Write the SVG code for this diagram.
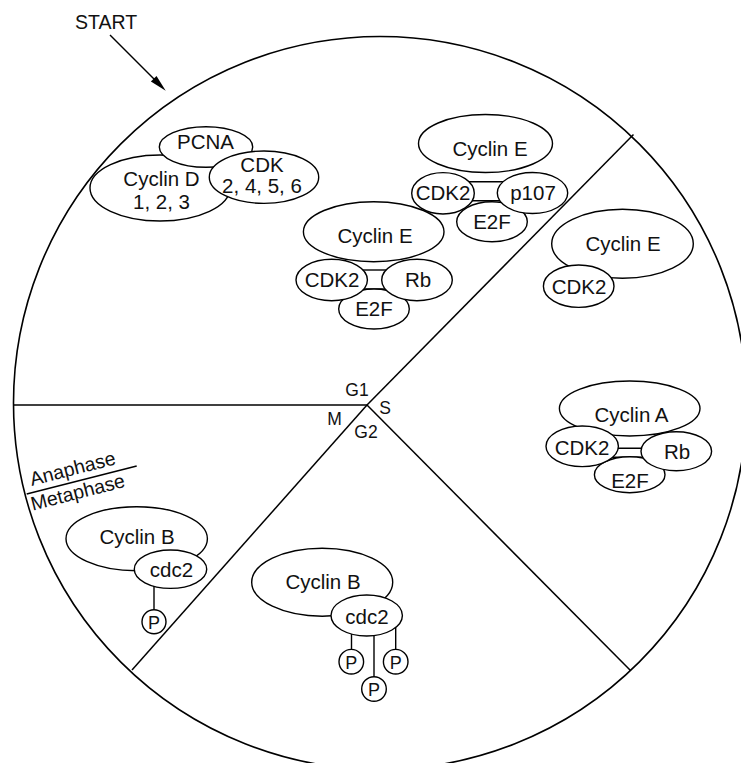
<svg xmlns="http://www.w3.org/2000/svg" width="741" height="763" viewBox="0 0 741 763">
<style>
.ring{fill:none;stroke:#000;stroke-width:1.6}
.sp{stroke:#000;stroke-width:1.5;fill:none}
.n{fill:#fff;stroke:#000;stroke-width:1.4}
.c{stroke:#000;stroke-width:1.4;fill:none}
text{font-family:"Liberation Sans",Arial,sans-serif;fill:#111}
.t{font-size:20.5px;text-anchor:middle}
.p{font-size:18px;text-anchor:middle}
.g{font-size:17.5px;text-anchor:middle}
</style>
<rect width="741" height="763" fill="#fff"/>
<g id="cycle">
<circle class="ring" cx="380" cy="403" r="366.5"/>
<line class="sp" x1="13.5" y1="405" x2="367" y2="405"/>
<line class="sp" x1="367" y1="405" x2="633.5" y2="134.5"/>
<line class="sp" x1="367" y1="405" x2="630.5" y2="670.5"/>
<line class="sp" x1="367" y1="405" x2="132" y2="670"/>
<text class="g" x="357" y="396">G1</text>
<text class="g" x="385" y="414">S</text>
<text class="g" x="334.5" y="425">M</text>
<text class="g" x="366" y="438">G2</text>
</g>
<g id="start">
<text x="106" y="29" style="font-size:19.5px;text-anchor:middle">START</text>
</g>
<g id="phases">
<line class="c" x1="26.7" y1="494" x2="136.7" y2="466"/>
<text x="31.7" y="486" transform="rotate(-14.5 31.7 486)" style="font-size:19.5px">Anaphase</text>
<text x="32.7" y="510.7" transform="rotate(-14.5 32.7 510.7)" style="font-size:19.5px">Metaphase</text>
</g>
<g id="connectors">
<line class="c" x1="110" y1="35" x2="158" y2="83"/>
<polygon points="165.7,90.7 150.9,81.5 156.5,75.9" fill="#000"/>
<line class="c" x1="465" y1="181.7" x2="505" y2="181.7"/>
<line class="c" x1="465" y1="200.7" x2="505" y2="200.7"/>
<line class="c" x1="360" y1="270" x2="390" y2="270"/>
<line class="c" x1="360" y1="289" x2="390" y2="289"/>
<line class="c" x1="612" y1="448.3" x2="648" y2="448.3"/>
<line class="c" x1="612" y1="457.3" x2="648" y2="457.3"/>
<line class="c" x1="154" y1="580" x2="154" y2="610"/>
<line class="c" x1="351.5" y1="625" x2="351.5" y2="650"/>
<line class="c" x1="374" y1="625" x2="374" y2="677"/>
<line class="c" x1="395.7" y1="620" x2="395.7" y2="650"/>
</g>
<g id="cyclinD">
<ellipse class="n" cx="160" cy="188" rx="70" ry="33"/>
<text class="t" x="161.5" y="186">Cyclin D</text>
<text class="t" x="161.5" y="209">1, 2, 3</text>
</g>
<g id="pcna">
<ellipse class="n" cx="206" cy="147" rx="46.7" ry="20.3"/>
<text class="t" x="205.5" y="148.5">PCNA</text>
</g>
<g id="cdk">
<ellipse class="n" cx="264" cy="177.2" rx="54.7" ry="26.2"/>
<text class="t" x="262" y="172">CDK</text>
<text class="t" x="262" y="193">2, 4, 5, 6</text>
</g>
<g id="cyclinE1">
<ellipse class="n" cx="485.5" cy="143.5" rx="67" ry="29"/>
<text class="t" x="490" y="156">Cyclin E</text>
</g>
<g id="e2f1">
<ellipse class="n" cx="492" cy="221.7" rx="35.3" ry="20"/>
<text class="t" x="492" y="229">E2F</text>
</g>
<g id="cdk2a">
<ellipse class="n" cx="443" cy="193.3" rx="31.3" ry="20.7"/>
<text class="t" x="443" y="200">CDK2</text>
</g>
<g id="p107">
<ellipse class="n" cx="532.5" cy="193" rx="35.2" ry="20.5"/>
<text class="t" x="533" y="200">p107</text>
</g>
<g id="cyclinE2">
<ellipse class="n" cx="373.7" cy="231.7" rx="70.3" ry="30"/>
<text class="t" x="375" y="243">Cyclin E</text>
</g>
<g id="e2f2">
<ellipse class="n" cx="374" cy="309" rx="35.3" ry="20"/>
<text class="t" x="374" y="316">E2F</text>
</g>
<g id="cdk2b">
<ellipse class="n" cx="331.7" cy="280" rx="35.7" ry="20.7"/>
<text class="t" x="332" y="287">CDK2</text>
</g>
<g id="rb1">
<ellipse class="n" cx="417" cy="280" rx="35.3" ry="20.7"/>
<text class="t" x="418" y="287">Rb</text>
</g>
<g id="cyclinE3">
<ellipse class="n" cx="622.5" cy="243.8" rx="70.8" ry="34.5"/>
<text class="t" x="623" y="251">Cyclin E</text>
</g>
<g id="cdk2c">
<ellipse class="n" cx="578.7" cy="286.2" rx="35.3" ry="21.2"/>
<text class="t" x="579" y="294">CDK2</text>
</g>
<g id="cyclinA">
<ellipse class="n" cx="629.7" cy="408.5" rx="70.3" ry="27.5"/>
<text class="t" x="631.5" y="422">Cyclin A</text>
</g>
<g id="e2f3">
<ellipse class="n" cx="629.7" cy="474.7" rx="35.3" ry="18"/>
<text class="t" x="630" y="488">E2F</text>
</g>
<g id="cdk2d">
<ellipse class="n" cx="582.2" cy="446.3" rx="36.2" ry="20.3"/>
<text class="t" x="582" y="455">CDK2</text>
</g>
<g id="rb2">
<ellipse class="n" cx="676.3" cy="451.2" rx="35.3" ry="19.5"/>
<text class="t" x="677" y="459">Rb</text>
</g>
<g id="cyclinB1">
<ellipse class="n" cx="136.7" cy="538.7" rx="70.7" ry="32"/>
<text class="t" x="137" y="544">Cyclin B</text>
</g>
<g id="cdc2a">
<ellipse class="n" cx="170.5" cy="569.2" rx="36.2" ry="19.2"/>
<text class="t" x="171.5" y="577">cdc2</text>
</g>
<g id="pA">
<circle class="n" cx="154" cy="621.7" r="12"/>
<text class="p" x="154" y="628.5">P</text>
</g>
<g id="cyclinB2">
<ellipse class="n" cx="322.2" cy="582.2" rx="70.5" ry="34"/>
<text class="t" x="323" y="589">Cyclin B</text>
</g>
<g id="cdc2b">
<ellipse class="n" cx="366.7" cy="615.5" rx="35.7" ry="20.5"/>
<text class="t" x="367" y="624">cdc2</text>
</g>
<g id="pB1">
<circle class="n" cx="351.3" cy="661.7" r="12.3"/>
<text class="p" x="351.3" y="668.5">P</text>
</g>
<g id="pB2">
<circle class="n" cx="395.7" cy="661.7" r="12.3"/>
<text class="p" x="395.7" y="668.5">P</text>
</g>
<g id="pB3">
<circle class="n" cx="374" cy="689" r="12.3"/>
<text class="p" x="374" y="696">P</text>
</g>
</svg>
